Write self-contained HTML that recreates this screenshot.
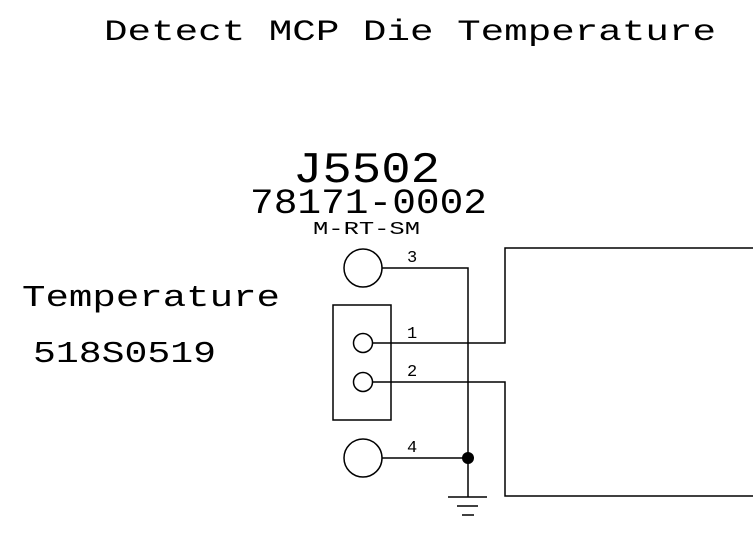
<!DOCTYPE html>
<html><head><meta charset="utf-8"><style>html,body{margin:0;padding:0;background:#fff}svg{display:block}</style></head>
<body>
<svg width="753" height="536" viewBox="0 0 753 536" xmlns="http://www.w3.org/2000/svg" font-family="Liberation Mono, monospace" fill="#000">
<text x="104" y="40" font-size="30" textLength="612" lengthAdjust="spacingAndGlyphs">Detect MCP Die Temperature</text>
<text x="293" y="182" font-size="44" textLength="147" lengthAdjust="spacingAndGlyphs">J5502</text>
<text x="250" y="213" font-size="35" textLength="237" lengthAdjust="spacingAndGlyphs">78171-0002</text>
<text x="313" y="234" font-size="18" textLength="107" lengthAdjust="spacingAndGlyphs">M-RT-SM</text>
<text x="22" y="306" font-size="31" textLength="258" lengthAdjust="spacingAndGlyphs">Temperature</text>
<text x="33" y="362" font-size="31" textLength="183" lengthAdjust="spacingAndGlyphs">518S0519</text>
<g font-size="17">
<text x="407" y="262">3</text>
<text x="407" y="338">1</text>
<text x="407" y="376">2</text>
<text x="407" y="452">4</text>
</g>
<g fill="none" stroke="#000" stroke-width="1.5">
<circle cx="363" cy="268" r="19"/>
<circle cx="363" cy="458" r="19"/>
<rect x="333" y="305" width="58" height="115"/>
<circle cx="363" cy="343" r="9.5"/>
<circle cx="363" cy="382" r="9.5"/>
<polyline points="382,268 468,268 468,497"/>
<line x1="382" y1="458" x2="468" y2="458"/>
<polyline points="372.5,343 505,343 505,248 753,248"/>
<polyline points="372.5,382 505,382 505,496 753,496"/>
<line x1="448" y1="497" x2="487" y2="497"/>
<line x1="457" y1="506" x2="478" y2="506"/>
<line x1="462" y1="515" x2="474" y2="515"/>
</g>
<circle cx="468" cy="458" r="6"/>
</svg>
</body></html>
